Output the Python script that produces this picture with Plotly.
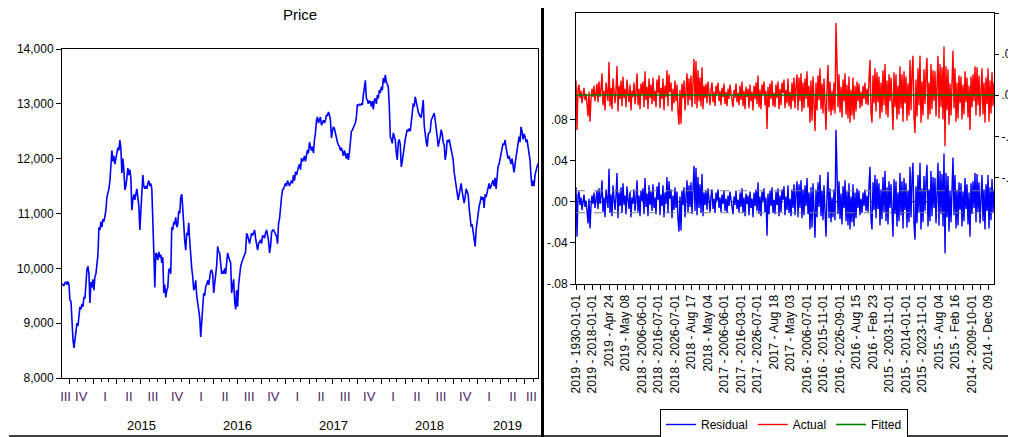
import numpy as np
import pandas as pd
import plotly.graph_objects as go

# ---------------- data ----------------
price = [
    9720, 9700, 9680, 9740, 9750, 9700, 9760, 9700,
    9420, 9400, 8950, 8700, 8550, 8750, 8900, 9000, 8950, 9200, 9300, 9250, 9350, 9300, 9480, 9450,
    9800, 9980, 10040, 9900, 9370, 9750, 9650, 9800, 9600, 9850, 9900, 10100, 10240, 10750, 10700,
    10850, 10750, 10900, 10850, 10950, 11060, 11300, 11370, 11450, 11600, 11800, 12150,
    11950, 12050, 11900, 12000, 12100, 12200, 12150, 12340, 12200, 11740, 12000, 11800,
    11430, 11500, 11650, 11830, 11700, 11800, 11650, 11060, 11250, 11350, 11250, 11400, 11450, 11300, 11130,
    10700, 11000, 11300, 11700, 11500, 11450, 11500, 11450, 11550, 11600, 11500, 11550, 11450, 11000, 10300,
    9650, 10280, 10250, 10150, 10300, 10200, 10250, 10100, 10200, 9550, 9700, 9470, 9600, 9650, 9970, 10000, 9900,
    10750, 10700, 10850, 10800, 10930, 10750, 10800, 11050, 11000, 11300, 11350, 11100, 10750, 10500, 10330,
    10650, 10600, 10830, 10500, 10150, 10000, 9850, 9600, 9650, 9780, 9500, 9370, 9300, 9100, 8750,
    9100, 9420, 9550, 9500, 9670, 9700, 9780, 9700, 9900, 9950, 9970, 9900, 9550, 9700, 9900, 10050,
    10400, 10300, 10280, 10050, 9900, 9950, 9900, 10000,
    9900, 10100, 10280, 10200, 10150, 10100, 9550, 9700, 9800, 9400, 9250, 9600, 9300, 9700, 9900, 10030,
    10100, 10150, 10200, 10250, 10300, 10640, 10600, 10520, 10450, 10550, 10640, 10600, 10650, 10700, 10550, 10400,
    10330, 10450, 10500, 10520, 10450, 10600, 10580, 10550, 10650, 10700, 10600, 10500, 10280, 10400, 10650, 10700,
    10700, 10650, 10600, 10580, 10450, 10820, 10900, 11190, 11300, 11430, 11450, 11500, 11550, 11500, 11600, 11550,
    11500, 11550, 11600, 11550, 11700, 11600, 11760, 11700, 11800, 11850, 11900, 11800, 12010, 11950, 11980, 12050,
    11950, 12100, 12160, 12100, 12300, 12220, 12150, 12220, 12100, 12350, 12470, 12700, 12760, 12650, 12700, 12760,
    12610, 12680, 12700, 12650, 12700, 12800, 12780, 12850, 12800, 12700, 12380, 12500, 12580, 12550, 12450, 12340,
    12300, 12250, 12220, 12150, 12200, 12130, 12050, 12150, 12070, 12000, 12100, 11980, 12100, 12350, 12500, 12520,
    12580, 12610, 12650, 12760, 12980, 12970, 12990, 12980, 13000, 12980, 13160, 13300, 13430, 13100, 13070, 13000,
    13050, 13040, 12950, 13050, 12900, 13070, 13100, 13000, 13160, 13100, 13250, 13200, 13310, 13250, 13470, 13380,
    13530, 13400, 13350, 13310, 12950, 12400, 12350, 12280, 12470, 12400, 12340, 12100, 11980, 12300, 12350, 12250,
    11850, 11950, 12100, 12300, 12350, 12450, 12530, 12500, 12550, 12500, 12750, 12830, 13010, 12950, 13130, 13000,
    12950, 12850, 12800, 12770, 12750, 12900, 13070, 12600, 12400, 12300, 12220, 12450, 12470, 12500, 12700, 12750,
    12800, 12830, 12700, 12580, 12400, 12220, 12300, 12400, 12530, 12450, 12300, 12250, 11980, 12100, 12340, 12300,
    12350, 12250, 12200, 12100, 11980, 11750, 11610, 11500, 11400, 11250, 11350, 11450, 11550, 11400, 11250, 11190,
    11300, 11450, 11400, 11350, 11100, 10880, 10760, 10800, 10640, 10550, 10400, 10700, 10880, 11000, 11130, 11200,
    11310, 11250, 11300, 11100, 11350, 11300, 11400, 11500, 11550, 11450, 11500, 11550, 11610, 11500, 11650, 11450,
    11700, 11860, 11900, 11980, 12100, 12200, 12280, 12250, 12340, 12200, 12100, 12000, 12050, 11950, 11900, 12000,
    11850, 11750, 11900, 12050, 12150, 12300, 12400, 12300, 12580, 12500, 12350, 12450, 12400, 12300, 12350, 12220,
    12100, 11980, 11670, 11500, 11600, 11500, 11700, 11800, 11850, 11910,
]
price_start = "2014-09-04"
price_end = "2019-08-20"

residual = [
    0.014, -0.034, 0.006, 0.010, -0.003, 0.004, -0.008, 0.002, 0.007, -0.005, 0.001, -0.009, -0.021, 0.003, -0.026, -0.004, 0.006, -0.002, 0.009, -0.006,
    0.003, 0.011, -0.007, 0.013, -0.002, 0.005, 0.021, -0.010, 0.004, -0.015, 0.012, 0.002, -0.006, 0.032, -0.011, 0.007, -0.014, 0.016, 0.003, -0.008,
    0.005, 0.028, -0.016, 0.009, -0.004, 0.014, -0.011, 0.018, -0.003, 0.006, -0.012, 0.015, 0.002, -0.007, 0.010, -0.015, 0.004, -0.002, 0.012, -0.009,
    0.003, 0.021, -0.010, 0.006, -0.014, 0.011, 0.001, 0.013, -0.012, 0.023, -0.005, 0.008, -0.014, 0.016, -0.003, 0.010, -0.009, 0.017, -0.006, 0.004,
    -0.012, 0.015, 0.002, 0.019, -0.013, 0.007, -0.004, 0.016, -0.015, 0.009, -0.002, 0.024, -0.011, 0.020, 0.003, 0.012, -0.016, 0.006, -0.008, 0.014,
    -0.006, 0.010, -0.017, -0.029, 0.005, -0.028, 0.011, -0.003, 0.014, -0.015, 0.004, 0.021, -0.010, 0.016, -0.005, 0.019, -0.012, 0.008, 0.035, -0.009,
    0.033, -0.013, 0.024, -0.006, 0.017, -0.011, 0.027, -0.014, 0.009, -0.003, 0.011, -0.008, 0.013, 0.002, -0.010, 0.005, 0.012, -0.007, 0.003, -0.011,
    0.009, 0.001, 0.012, -0.006, 0.004, -0.010, 0.007, -0.002, 0.011, -0.009, 0.003, -0.011, 0.006, -0.004, 0.010, 0.002, -0.008, -0.012, 0.005, -0.003,
    0.011, -0.007, 0.002, -0.010, 0.009, -0.005, 0.013, -0.011, 0.004, -0.014, 0.008, -0.002, 0.006, -0.013, 0.010, -0.006, 0.003, -0.015, 0.009, -0.004,
    0.012, -0.009, 0.019, -0.012, 0.005, -0.014, 0.010, 0.001, 0.013, -0.010, 0.004, -0.033, 0.008, -0.012, 0.011, -0.004, 0.014, -0.011, 0.002, -0.012,
    0.010, -0.003, 0.013, -0.014, 0.006, -0.010, 0.012, 0.002, 0.015, -0.013, 0.005, -0.008, 0.016, -0.011, 0.003, -0.014, 0.012, -0.006, 0.017, -0.013,
    0.008, 0.020, -0.015, 0.017, -0.006, 0.021, -0.016, 0.012, -0.013, 0.016, -0.004, 0.023, -0.012, 0.009, -0.027, 0.014, -0.025, 0.018, -0.008, -0.035,
    0.012, -0.015, 0.019, -0.005, 0.026, -0.014, 0.011, -0.018, 0.016, -0.007, -0.034, 0.006, 0.029, -0.016, 0.013, -0.020, 0.004, -0.015, 0.012, -0.018,
    0.070, 0.031, -0.012, 0.020, -0.017, 0.008, -0.022, 0.015, -0.006, 0.021, -0.019, 0.010, -0.023, 0.018, -0.027, 0.005, -0.020, 0.017, -0.024, 0.009,
    -0.016, 0.013, -0.006, 0.011, -0.013, 0.003, -0.011, 0.009, -0.004, 0.012, -0.009, 0.006, -0.010, 0.015, 0.034, -0.017, -0.027, 0.019, -0.008, 0.026,
    -0.016, 0.022, -0.007, 0.018, -0.023, 0.012, -0.017, 0.024, -0.010, 0.030, -0.019, 0.014, -0.022, 0.020, -0.006, 0.017, -0.021, -0.034, 0.022, -0.012,
    0.020, -0.024, 0.009, -0.019, 0.028, -0.013, 0.020, -0.026, 0.023, -0.008, 0.018, -0.025, 0.011, -0.020, 0.034, -0.015, 0.021, 0.038, -0.022, -0.037,
    0.015, -0.021, 0.026, -0.010, 0.038, -0.027, 0.013, -0.020, 0.025, -0.009, 0.021, 0.036, -0.024, 0.012, -0.019, 0.030, -0.014, 0.024, -0.006, 0.023,
    -0.021, 0.016, 0.038, -0.023, 0.030, -0.012, 0.027, -0.024, 0.047, -0.050, 0.028, -0.015, 0.025, -0.029, 0.011, -0.020, 0.024, 0.043, -0.013, 0.026,
    -0.026, 0.012, -0.023, 0.019, -0.008, 0.018, -0.024, 0.010, -0.019, 0.023, -0.007, 0.017, -0.022, 0.009, -0.034, 0.018, -0.012, 0.020, -0.006, 0.028,
    -0.020, 0.027, -0.010, 0.019, -0.021, 0.006, 0.026, -0.019, 0.012, -0.027, 0.017, -0.009, 0.026, -0.026, 0.014, -0.018, 0.022, -0.011, 0.012,
]
fitted_level = 0.0003
se_band = 0.0107

x_labels = [
    "2019 - 1930-01-01", "2019 - 2018-01-01", "2019 - Apr 24", "2019 - May 08",
    "2018 - 2006-06-01", "2018 - 2016-07-01", "2018 - 2026-07-01", "2018 - Aug 17",
    "2018 - May 04", "2017 - 2006-06-01", "2017 - 2016-03-01", "2017 - 2026-07-01",
    "2017 - Aug 18", "2017 - May 03", "2016 - 2006-07-01", "2016 - 2015-11-01",
    "2016 - 2026-09-01", "2016 - Aug 15", "2016 - Feb 23", "2015 - 2003-11-01",
    "2015 - 2014-01-01", "2015 - 2023-11-01", "2015 - Aug 04", "2015 - Feb 16",
    "2014 - 2009-10-01", "2014 - Dec 09",
]
label_step = 16.5
res_ticks = [-0.08, -0.04, 0.0, 0.04, 0.08]
res_ticktext = ["-.08", "-.04", ".00", ".04", ".08"]
price_ticks = [8000, 9000, 10000, 11000, 12000, 13000, 14000]
roman = {1: "I", 2: "II", 3: "III", 4: "IV"}

# ---------------- layout helpers ----------------
# the page body has an 8px margin, so figure coords = page coords - 8
W, H = 1016, 437
OFF = 8
FONT = "Arial, Liberation Sans, sans-serif"


def fx(p):
    return (p - OFF) / W


def fy(p):
    return 1 - (p - OFF) / H


rs = pd.Timestamp(price_start)
re_ = pd.Timestamp(price_end)
dates = pd.date_range(rs, re_, periods=len(price))

q_starts = pd.date_range("2014-07-01", "2019-07-01", freq="QS")
q_bounds = [d for d in q_starts if rs < d < re_]
q_pos, q_txt = [], []
for qs in q_starts:
    qe = qs + pd.offsets.QuarterBegin(startingMonth=1)
    a, b = max(qs, rs), min(qe, re_)
    q_pos.append(a + (b - a) / 2)
    q_txt.append(roman[qs.quarter])
months = [d for d in pd.date_range("2014-09-01", "2019-08-01", freq="MS") if rs < d < re_]

year_ann = []
for yr in range(2015, 2020):
    a, b = max(pd.Timestamp(f"{yr}-01-01"), rs), min(pd.Timestamp(f"{yr+1}-01-01"), re_)
    year_ann.append((a + (b - a) / 2, str(yr)))

n = len(residual)
obs = np.arange(n)
res_arr = np.array(residual)
actual = res_arr + fitted_level
fitted = np.full(n, fitted_level)

# ---------------- figure ----------------
fig = go.Figure()
fig.add_trace(go.Scatter(x=dates, y=price, mode="lines", line=dict(color="#0000ff", width=1.6),
                         xaxis="x", yaxis="y", showlegend=False, hoverinfo="skip"))
# same series bound to the quarter-label axis (invisible) so that axis is drawn
fig.add_trace(go.Scatter(x=dates, y=price, mode="lines", line=dict(color="#0000ff", width=1),
                         opacity=0, xaxis="x3", yaxis="y", showlegend=False, hoverinfo="skip"))

fig.add_trace(go.Scatter(x=[0, n - 1], y=[0, 0], mode="lines", line=dict(color="black", width=1, dash="dot"),
                         xaxis="x2", yaxis="y2", showlegend=False, hoverinfo="skip"))
fig.add_trace(go.Scatter(x=obs, y=res_arr, mode="lines", name="Residual",
                         line=dict(color="#0000ff", width=1.4), xaxis="x2", yaxis="y2"))
fig.add_trace(go.Scatter(x=obs, y=actual, mode="lines", name="Actual",
                         line=dict(color="#ff0000", width=1.4), xaxis="x2", yaxis="y4"))
fig.add_trace(go.Scatter(x=obs, y=fitted, mode="lines", name="Fitted",
                         line=dict(color="#008000", width=1.6), xaxis="x2", yaxis="y4"))
for s in (se_band, -se_band):
    fig.add_trace(go.Scatter(x=[0, n - 1], y=[s, s], mode="lines",
                             line=dict(color="#7f7f7f", width=1, dash="dash"),
                             xaxis="x2", yaxis="y2", showlegend=False, hoverinfo="skip"))

axis_common = dict(showgrid=False, zeroline=False, linecolor="black", linewidth=1,
                   tickcolor="black", automargin=False,
                   tickfont=dict(family=FONT, size=12, color="black"))

res_span = (284 - 13) / 1028.0

fig.update_layout(
    width=W, height=H, autosize=False,
    margin=dict(l=0, r=0, t=0, b=0),
    paper_bgcolor="white", plot_bgcolor="white",
    template="none",
    font=dict(family=FONT, size=12, color="black"),
    xaxis=dict(axis_common, domain=[fx(62), fx(538)], anchor="y", type="date",
               range=[rs, re_], tickmode="array", tickvals=q_bounds, ticks="outside",
               ticklen=5, showticklabels=False, showline=True, mirror=True,
               minor=dict(tickmode="array", tickvals=months, ticks="outside", ticklen=3,
                          tickcolor="black", showgrid=False)),
    xaxis3=dict(axis_common, overlaying="x", anchor="y", type="date", range=[rs, re_],
                tickmode="array", tickvals=q_pos, ticktext=q_txt, ticks="", showline=False,
                ticklabelstandoff=9,
                tickfont=dict(family=FONT, size=13, color="#4b1f5f")),
    yaxis=dict(axis_common, domain=[fy(378), fy(49)], anchor="x", range=[8000, 14000],
               tickmode="array", tickvals=price_ticks, tickformat=",d", ticks="outside",
               ticklen=5, showline=True, mirror=True),
    xaxis2=dict(axis_common, domain=[fx(576), fx(994)], anchor="y2", range=[0, n - 1],
                tickmode="array", tickvals=[k * label_step for k in range(len(x_labels))],
                ticktext=x_labels, tickangle=-90, ticks="outside", ticklen=5,
                showline=True, mirror=True,
                minor=dict(tickmode="array",
                           tickvals=[(k + 0.5) * label_step for k in range(len(x_labels))],
                           ticks="outside", ticklen=5, tickcolor="black", showgrid=False)),
    yaxis2=dict(axis_common, domain=[fy(284), fy(13)], anchor="x2",
                range=[-0.08, -0.08 + res_span], tickmode="array", tickvals=res_ticks,
                ticktext=res_ticktext, ticks="outside", ticklen=5, showline=True, mirror=False),
    yaxis4=dict(axis_common, overlaying="y2", side="right", anchor="x2",
                range=[0.08 - res_span, 0.08], tickmode="array", tickvals=res_ticks,
                ticktext=res_ticktext, ticks="outside", ticklen=4, showline=True),
    legend=dict(orientation="h", x=fx(784), y=fy(424.5), xanchor="center", yanchor="middle",
                bordercolor="black", borderwidth=1, bgcolor="white", itemwidth=30,
                font=dict(family=FONT, size=12, color="black"), tracegroupgap=0),
    showlegend=True,
)

annotations = [dict(text="Price", x=fx(300), y=fy(15), xref="paper", yref="paper",
                    showarrow=False, font=dict(family=FONT, size=15, color="black"),
                    xanchor="center", yanchor="middle")]
for pos, txt in year_ann:
    annotations.append(dict(text=txt, x=pos, y=fy(425), xref="x", yref="paper",
                            showarrow=False, font=dict(family=FONT, size=13, color="black"),
                            xanchor="center", yanchor="middle"))
fig.update_layout(annotations=annotations)

shapes = [
    dict(type="line", xref="paper", yref="paper", x0=fx(9), x1=fx(9), y0=fy(0), y1=1.05,
         line=dict(color="black", width=1.5)),
    dict(type="line", xref="paper", yref="paper", x0=fx(9), x1=1, y0=fy(436), y1=fy(436),
         line=dict(color="black", width=1.5)),
    dict(type="line", xref="paper", yref="paper", x0=fx(542.5), x1=fx(542.5), y0=fy(437), y1=1.05,
         line=dict(color="black", width=3)),
]
fig.update_layout(shapes=shapes)

fig.write_html("out.html")
